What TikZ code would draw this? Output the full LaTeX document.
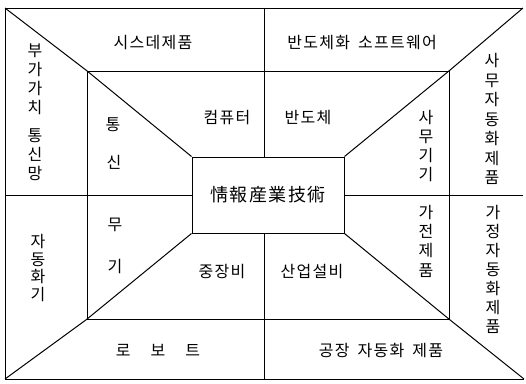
\documentclass[tikz,border=0pt]{standalone}
\usepackage{fontspec}
\newfontfamily\kr{Noto Sans CJK KR}
\newfontfamily\krs[LetterSpace=8]{Noto Sans CJK KR}
\begin{document}
\begin{tikzpicture}[x=1pt,y=-1pt,line width=1pt,
  lbl/.style={font=\krs\fontsize{16}{18}\selectfont,inner sep=0},
  vlbl/.style={font=\kr\fontsize{16}{19}\selectfont,align=center,inner sep=0},
  box/.style={draw,rectangle,inner sep=0}]
\useasboundingbox (0,0) rectangle (526,383);
\fill[white] (0,0) rectangle (526,383);
% outer corners
\coordinate (otl) at (5,8);
\coordinate (otr) at (523,8);
\coordinate (obl) at (5,379);
\coordinate (obr) at (524,379);
\coordinate (ctop) at (264,8);
\coordinate (cbot) at (264,379);
\coordinate (ml) at (5,195);
\coordinate (mr) at (523,195);
% boxes
\node[box,minimum width=362pt,minimum height=248pt] (ring) at (268,195) {};
\node[box,minimum width=152pt,minimum height=76pt,
      font=\krs\fontsize{18}{20}\selectfont] (core) at (268,195) {情報産業技術};
% outer frame (no right edge)
\draw (otr) -- (otl) -- (obl) -- (obr);
% diagonals
\draw (otl) -- (ring.north west) -- (core.north west);
\draw (otr) -- (ring.north east) -- (core.north east);
\draw (obl) -- (ring.south west) -- (core.south west);
\draw (obr) -- (ring.south east) -- (core.south east);
% dividers
\draw (ctop) -- (ctop |- core.north);
\draw (cbot) -- (cbot |- core.south);
\draw (ml) -- (core.west);
\draw (mr) -- (core.east);
% top strip
\node[lbl] (t1) at (153,43) {시스데제품};
\node[lbl] (t2) at (362,43) {반도체화\hspace{8pt}소프트웨어};
% left strip
\node[vlbl] (l1) at (35,79) {부\\가\\가\\치};
\node[vlbl] (l2) at (35,155) {통\\신\\망};
\node[vlbl,font=\kr\fontsize{16}{17.5}\selectfont] (l3) at (38,268) {자\\동\\화\\기};
% right strip
\node[vlbl,font=\kr\fontsize{16}{19.5}\selectfont] (r1) at (492,119) {사\\무\\자\\동\\화\\제\\품};
\node[vlbl] (r2) at (493,269) {가\\정\\자\\동\\화\\제\\품};
% bottom strip
\node[lbl] (b1) at (158,350) {로\hspace{20pt}보\hspace{20pt}트};
\node[lbl] (b2) at (381,350) {공장\hspace{8pt}자동화\hspace{8pt}제품};
% ring texts
\node[vlbl] (i1) at (113,125) {통};
\node[vlbl] (i2) at (114,162) {신};
\node[vlbl] (i3) at (115,225) {무};
\node[vlbl] (i4) at (115,267) {기};
\node[lbl] (i5) at (227,118) {컴퓨터};
\node[lbl] (i6) at (308,118) {반도체};
\node[vlbl,font=\kr\fontsize{16}{19.3}\selectfont] (i7) at (426,146) {사\\무\\기\\기};
\node[vlbl,font=\kr\fontsize{16}{19.3}\selectfont] (i8) at (426,241) {가\\전\\제\\품};
\node[lbl] (i9) at (222,272) {중장비};
\node[lbl] (i10) at (312,272) {산업설비};
\end{tikzpicture}
\end{document}
